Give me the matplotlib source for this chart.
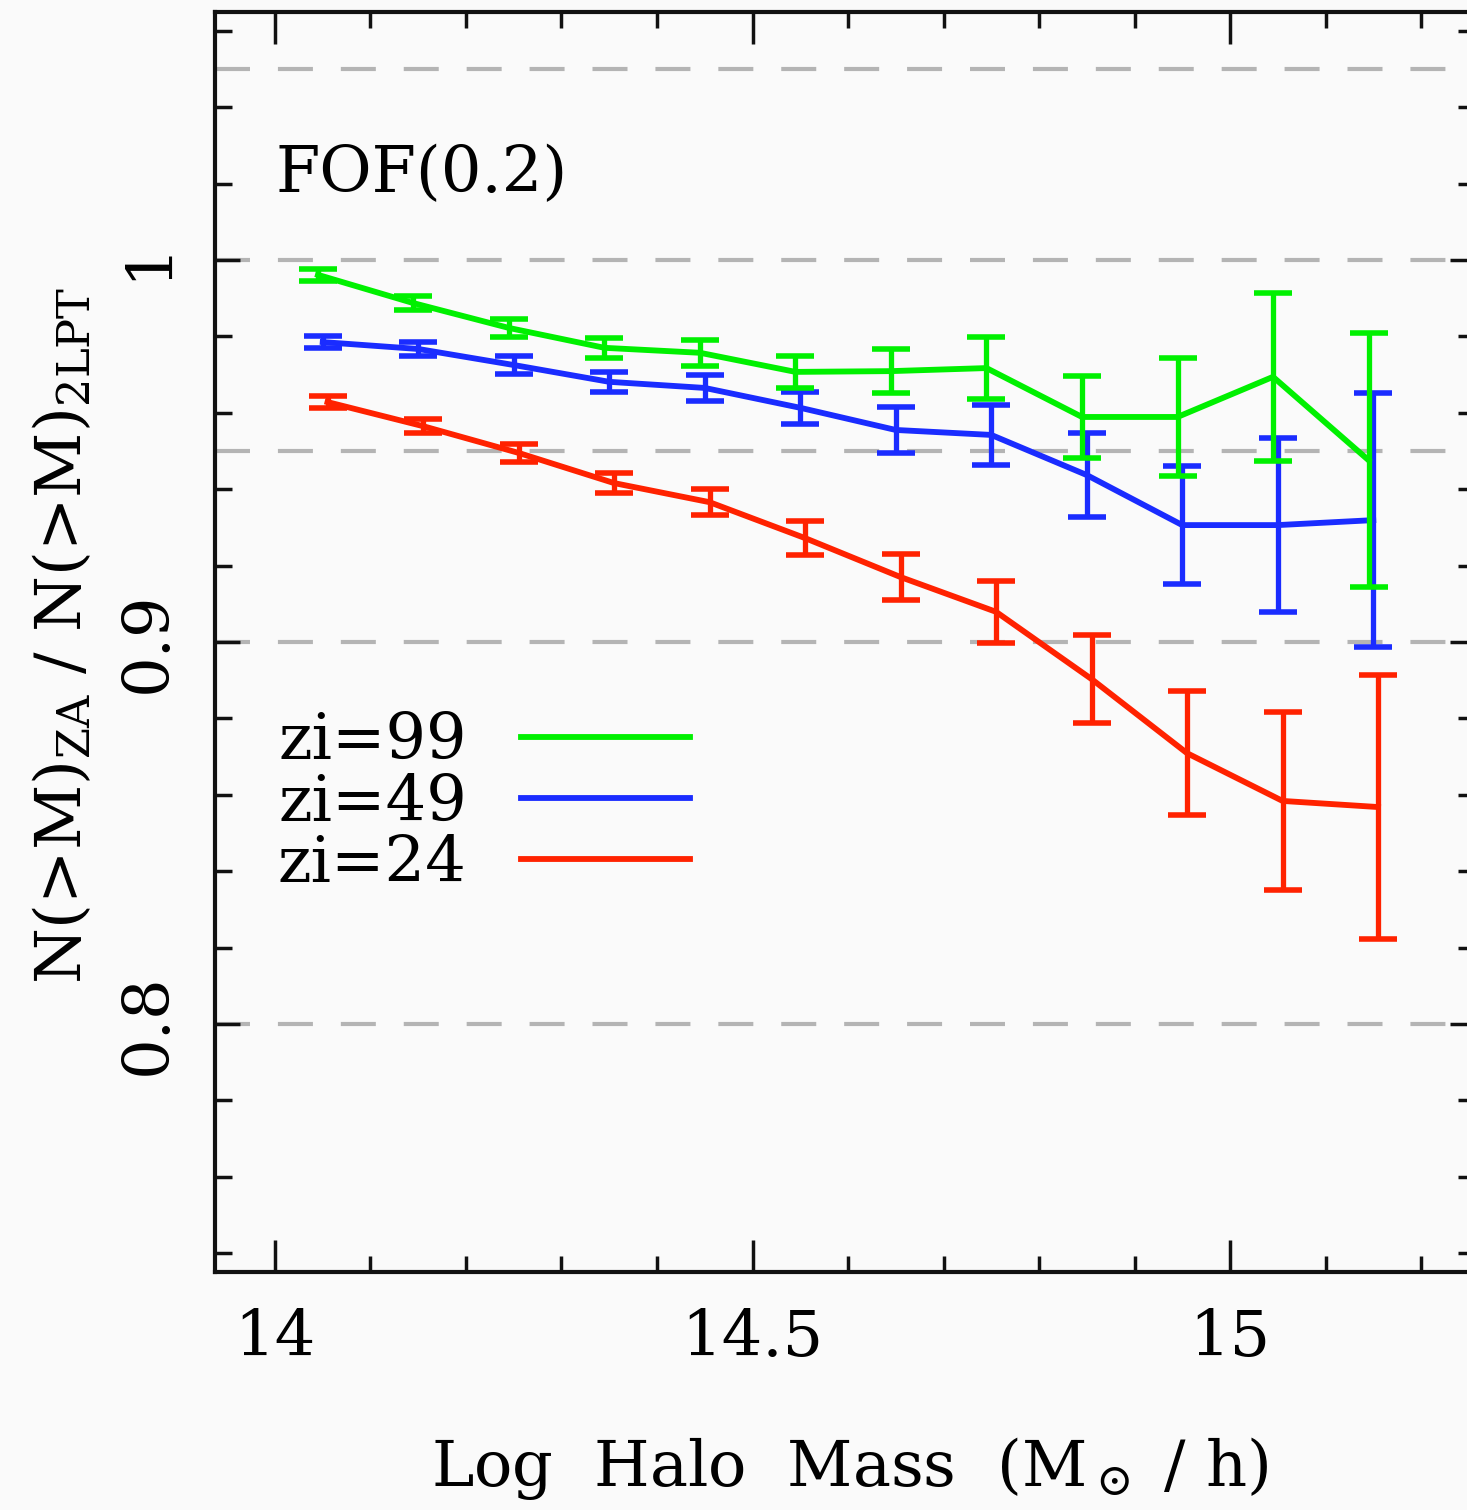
import matplotlib
matplotlib.use('Agg')
import matplotlib.pyplot as plt
from matplotlib.ticker import MultipleLocator, FixedLocator

plt.rcParams['font.family'] = ['DejaVu Serif']
plt.rcParams['mathtext.fontset'] = 'dejavuserif'

# log halo mass bins
logm = [14.05, 14.15, 14.25, 14.35, 14.45, 14.55, 14.65, 14.75, 14.85, 14.95, 15.05, 15.15]

# zi=99
r99 = [0.9961, 0.9887, 0.9822, 0.9770, 0.9757, 0.9707, 0.9709, 0.9717, 0.9589, 0.9589, 0.9694, 0.9476]
e99 = [0.0016, 0.0018, 0.0024, 0.0026, 0.0034, 0.0042, 0.0058, 0.0081, 0.0107, 0.0154, 0.0220, 0.0332]
# zi=49
r49 = [0.9785, 0.9767, 0.9725, 0.9681, 0.9665, 0.9613, 0.9555, 0.9542, 0.9437, 0.9306, 0.9306, 0.9319]
e49 = [0.0016, 0.0018, 0.0024, 0.0026, 0.0034, 0.0042, 0.0060, 0.0079, 0.0110, 0.0154, 0.0228, 0.0332]
# zi=24
r24 = [0.9628, 0.9565, 0.9495, 0.9416, 0.9366, 0.9272, 0.9170, 0.9079, 0.8903, 0.8709, 0.8584, 0.8568]
e24 = [0.0016, 0.0018, 0.0024, 0.0026, 0.0034, 0.0045, 0.0060, 0.0081, 0.0115, 0.0162, 0.0233, 0.0346]

labels = ['zi=99', 'zi=49', 'zi=24']
colors = ['#00f000', '#1a2cff', '#ff2200']
shifts = [-0.005, 0.0, 0.005]   # small horizontal offsets between runs
ref_lines = [1.05, 1.0, 0.95, 0.9, 0.8]

fs = 46
bg = '#fafafa'
fig = plt.figure(figsize=(14.67, 15.10), dpi=100, facecolor=bg)
ax = fig.add_axes([215/1467, 238/1510, 1260/1467, 1260/1510], facecolor=bg)

for yv in ref_lines:
    ax.axhline(yv, color='#b4b4b4', lw=3, dashes=(8.4, 6.7), zorder=1)

series = [(r24, e24, 2), (r49, e49, 1), (r99, e99, 0)]
handles = {}
for vals, errs, i in series:
    xs = [m + shifts[i] for m in logm]
    h = ax.errorbar(xs, vals, yerr=errs, color=colors[i], lw=4.2, elinewidth=3.8,
                    capsize=14, capthick=4, zorder=3 + (2 - i), label=labels[i])
    handles[i] = h

leg = ax.legend([handles[0][0], handles[1][0], handles[2][0]], labels,
                loc='upper left', bbox_to_anchor=(0.05, 0.445), frameon=False,
                markerfirst=False, fontsize=fs, handlelength=2.65, handletextpad=0.85,
                labelspacing=0.0, borderpad=0, borderaxespad=0)

ax.text(0.048, 0.857, 'FOF(0.2)', transform=ax.transAxes, fontsize=fs,
        ha='left', va='baseline')

ax.set_xlim(13.9372, 15.2565)
ax.set_ylim(0.7351, 1.0649)
ax.xaxis.set_major_locator(FixedLocator([14, 14.5, 15]))
ax.xaxis.set_minor_locator(MultipleLocator(0.1))
ax.yaxis.set_major_locator(MultipleLocator(0.1))
ax.yaxis.set_minor_locator(MultipleLocator(0.02))
ax.set_xticklabels(['14', '14.5', '15'])
ax.set_yticks([0.8, 0.9, 1.0])
ax.set_yticklabels(['0.8', '0.9', '1'], rotation=90, va='center')

ax.tick_params(axis='both', which='both', direction='in', top=True, right=True,
               width=2.5, labelsize=fs, pad=26, color='#111111')
ax.tick_params(axis='x', which='major', length=23)
ax.tick_params(axis='x', which='minor', length=11.5)
ax.tick_params(axis='y', which='major', length=18)
ax.tick_params(axis='y', which='minor', length=12.5)
for s in ax.spines.values():
    s.set_linewidth(3)
    s.set_color('#111111')

ax.set_xlabel(r'Log  Halo  Mass  (M$_\odot$ / h)', fontsize=fs, va='center')
ax.xaxis.set_label_coords(0.504, -0.156)
ax.set_ylabel(r'N(>M)$_{\rm ZA}$ / N(>M)$_{\rm 2LPT}$', fontsize=fs, va='center')
ax.yaxis.set_label_coords(-0.121, 0.505)

fig.savefig('out.png', dpi=100, facecolor=bg)
